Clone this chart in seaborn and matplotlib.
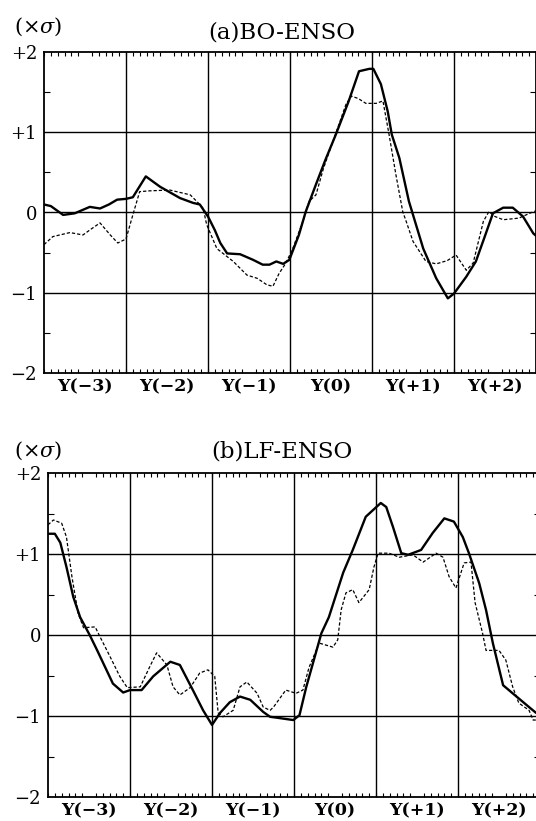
import numpy as np
import pandas as pd
import matplotlib
matplotlib.use("Agg")
import matplotlib.pyplot as plt
import seaborn as sns

sns.set_style("white")
plt.rcParams['font.family'] = ['DejaVu Serif']
plt.rcParams['mathtext.fontset'] = 'dejavuserif'
plt.rcParams['text.color'] = 'black'
plt.rcParams['xtick.color'] = 'black'
plt.rcParams['ytick.color'] = 'black'
plt.rcParams['xtick.labelcolor'] = 'black'
plt.rcParams['ytick.labelcolor'] = 'black'

# year labels (centred in each 12-month block) and y tick labels
year_labels = ['Y(−3)', 'Y(−2)', 'Y(−1)', 'Y(0)', 'Y(+1)', 'Y(+2)']
ytick_vals = [-2, -1, 0, 1, 2]
ytick_labels = ['−2', '−1', '0', '+1', '+2']

# (a) BO-ENSO, solid curve (month, value in sigma)
bo_solid_m = [0, 1, 2.8, 4.5, 6.7, 8.2, 9.5, 10.7, 12, 13, 14.9, 17, 19.9, 21.8, 22.8,
              24, 25, 25.8, 26.8, 28.7, 30.6, 32, 33, 34, 35, 35.9, 37.3, 38.3, 39.8,
              41.2, 42.7, 44.6, 46.1, 47.6, 48.2, 49.3, 50.3, 50.9, 52, 53.4, 55.5,
              57.4, 59.1, 60, 61.8, 63.2, 64.5, 65.7, 67.2, 68.6, 70.1, 71.6, 72]
bo_solid_v = [0.1, 0.08, -0.03, -0.01, 0.07, 0.05, 0.1, 0.16, 0.17, 0.19, 0.45, 0.32,
              0.18, 0.12, 0.1, -0.05, -0.22, -0.38, -0.51, -0.52, -0.59, -0.65, -0.65,
              -0.61, -0.64, -0.59, -0.28, 0.01, 0.35, 0.66, 0.97, 1.39, 1.76, 1.79,
              1.79, 1.6, 1.26, 0.97, 0.68, 0.14, -0.45, -0.82, -1.07, -1.01, -0.8,
              -0.61, -0.3, -0.01, 0.06, 0.06, -0.05, -0.26, -0.29]

# (a) BO-ENSO, dashed curve
bo_dash_m = [0, 1.3, 3.8, 5.7, 7, 8.2, 9.7, 10.8, 12, 13, 14, 15.5, 18.4, 21.4, 22.8,
             23.3, 23.8, 25.3, 27.7, 29.7, 31.2, 32.6, 33.5, 34.4, 35.4, 36.4, 37.9,
             38.8, 39.8, 40.9, 42.3, 44.2, 45, 46, 47.1, 48.6, 49.6, 50.5, 51.5, 52.5,
             53, 54, 55.9, 57.4, 59, 60.3, 61.8, 62.8, 64.3, 65.1, 66, 67.2, 69.5,
             71.6, 72]
bo_dash_v = [-0.4, -0.3, -0.25, -0.28, -0.2, -0.13, -0.28, -0.38, -0.33, -0.03, 0.26,
             0.27, 0.28, 0.22, 0.1, 0.05, -0.15, -0.45, -0.61, -0.78, -0.82, -0.9,
             -0.92, -0.76, -0.63, -0.45, -0.11, 0.14, 0.22, 0.55, 0.89, 1.35, 1.45,
             1.42, 1.36, 1.36, 1.39, 0.97, 0.47, 0.01, -0.11, -0.36, -0.61, -0.64,
             -0.6, -0.53, -0.72, -0.63, -0.11, 0.01, -0.05, -0.09, -0.07, 0.01, 0.02]

# (b) LF-ENSO, solid curve
lf_solid_m = [0, 1, 1.8, 2.7, 3.7, 4.7, 6.1, 7.2, 9.5, 11, 12, 13.7, 15.4, 17.9, 19.3,
              21.2, 22.7, 24, 25.2, 26.6, 28.1, 29.6, 31.5, 32.5, 33.4, 35.9, 36.8,
              37.8, 39.2, 40, 41.1, 43.2, 44.6, 46.5, 48.7, 49.5, 50.5, 51.7, 52.7,
              54.6, 56.3, 58, 59.4, 60.7, 61.6, 63.1, 64.1, 65.1, 66.6, 68, 70.4,
              71.4, 72]
lf_solid_v = [1.25, 1.25, 1.14, 0.84, 0.47, 0.22, 0.0, -0.19, -0.6, -0.71, -0.68,
              -0.68, -0.51, -0.33, -0.37, -0.68, -0.93, -1.11, -0.96, -0.83, -0.76,
              -0.8, -0.95, -1.01, -1.02, -1.05, -0.99, -0.64, -0.22, 0.02, 0.22, 0.77,
              1.05, 1.46, 1.63, 1.58, 1.33, 1.01, 0.99, 1.05, 1.26, 1.44, 1.4, 1.21,
              1.01, 0.64, 0.31, -0.1, -0.62, -0.72, -0.89, -0.96, -0.98]

# (b) LF-ENSO, dashed curve
lf_dash_m = [0, 0.8, 2, 2.7, 3.5, 4.4, 5.2, 6.9, 7.6, 9.1, 10.5, 11.6, 13.5, 14.9,
             15.9, 17.4, 18.3, 19.3, 20.8, 22.2, 23.4, 24.4, 24.9, 25.6, 27.1, 28.1,
             29.1, 30.6, 31.5, 32.5, 33, 34.8, 36.3, 37.3, 38.2, 39.7, 41.7, 42.4,
             42.9, 43.6, 44.6, 45.5, 47, 47.7, 48.3, 49.9, 51.4, 53.4, 54.9, 56.8,
             57.8, 58.7, 59.7, 60.9, 61.9, 62.5, 63.6, 64.1, 66, 67, 68, 68.9, 70.4,
             71, 72]
lf_dash_v = [1.36, 1.42, 1.38, 1.21, 0.72, 0.27, 0.09, 0.1, -0.02, -0.27, -0.51,
             -0.65, -0.64, -0.39, -0.22, -0.37, -0.64, -0.74, -0.65, -0.47, -0.43,
             -0.51, -0.96, -1.01, -0.93, -0.64, -0.58, -0.72, -0.89, -0.93, -0.89,
             -0.68, -0.72, -0.68, -0.4, -0.1, -0.15, -0.06, 0.31, 0.52, 0.56, 0.4,
             0.56, 0.84, 1.01, 1.01, 0.96, 0.99, 0.9, 1.01, 0.96, 0.72, 0.58, 0.89,
             0.9, 0.4, 0.02, -0.19, -0.19, -0.31, -0.64, -0.84, -0.93, -1.05, -1.05]

W, H = 536, 821
fig = plt.figure(figsize=(W / 100, H / 100), dpi=100)
ax_a = fig.add_axes([44 / W, 1 - 373 / H, 492 / W, 321 / H])
ax_b = fig.add_axes([48 / W, 1 - 797 / H, 492 / W, 324 / H])


def draw_panel(ax, sm, sv, dm, dv, title, title_y, unit_y):
    sns.lineplot(x=sm, y=sv, ax=ax, color='black', linewidth=1.7, sort=False)
    sns.lineplot(x=dm, y=dv, ax=ax, color='black', linewidth=0.9, sort=False,
                 linestyle=(0, (2.6, 1.6)))
    for yv in [-1, 0, 1]:
        ax.axhline(yv, color='black', linewidth=1.0, zorder=0)
    for xv in range(12, 72, 12):
        ax.axvline(xv, color='black', linewidth=1.0, zorder=0)
    ax.set_xlim(0, 72)
    ax.set_ylim(-2, 2)
    ax.set_xticks(range(6, 72, 12))
    ax.set_xticklabels(year_labels, fontweight='bold', fontsize=12.5)
    ax.set_xticks(range(0, 73), minor=True)
    ax.set_yticks(ytick_vals)
    ax.set_yticklabels(ytick_labels, fontsize=13)
    ax.set_yticks([-1.5, -0.5, 0.5, 1.5], minor=True)
    ax.tick_params(axis='x', which='major', length=0, pad=4)
    ax.tick_params(axis='x', which='minor', direction='in', top=True, bottom=True,
                   length=3, width=0.8)
    ax.tick_params(axis='y', which='major', length=0, pad=5)
    ax.tick_params(axis='y', which='minor', direction='in', left=True, right=True,
                   length=4, width=0.8)
    ax.set_xlabel('')
    ax.set_ylabel('')
    for sp in ax.spines.values():
        sp.set_visible(True)
        sp.set_color('black')
        sp.set_linewidth(1.3)
    fig.text(282 / W, 1 - title_y / H, title, ha='center', va='center', fontsize=16.5)
    fig.text(14 / W, 1 - unit_y / H, '(×$\\sigma$)', ha='left', va='center', fontsize=15)


draw_panel(ax_a, bo_solid_m, bo_solid_v, bo_dash_m, bo_dash_v, '(a)BO-ENSO', 32, 27)
draw_panel(ax_b, lf_solid_m, lf_solid_v, lf_dash_m, lf_dash_v, '(b)LF-ENSO', 451, 451)

fig.savefig('out.png', dpi=100)
